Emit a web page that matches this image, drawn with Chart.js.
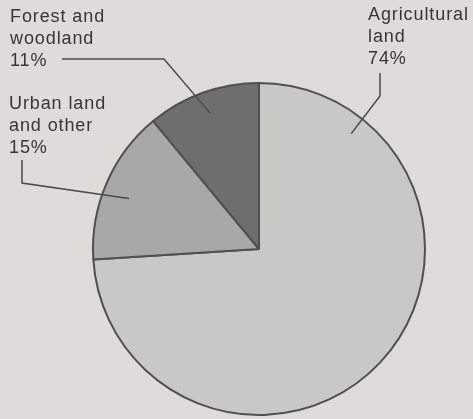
<!DOCTYPE html>
<html>
<head>
<meta charset="utf-8">
<script src="https://cdn.jsdelivr.net/npm/chart.js@4/dist/chart.umd.min.js"></script>
<style>
  html, body { margin: 0; padding: 0; background: #dddcd9; }
  #wrap { width: 473px; height: 419px; position: relative; }
</style>
</head>
<body>
<div id="wrap"><canvas id="pie" width="473" height="419"></canvas></div>
<script>
// Land use shares (percent), clockwise from 12 o'clock
const categories = ['Agricultural land', 'Urban land and other', 'Forest and woodland'];
const shares = [74, 15, 11];
// Text lines shown in each slice's callout (the share is appended as a last line)
const calloutLines = [['Agricultural', 'land'], ['Urban land', 'and other'], ['Forest and', 'woodland']];

const sliceColors = ['#c8c8c5', '#a8a8a6', '#6e6e6d'];

// Callout layout: text anchor, leader path and where the leader ends inside the slice
// (angleFrac = position across the slice's angle, radiusFrac = share of the radius)
const calloutLayout = [
  { x: 368, y: 20, path: [[380, 73], [380, 96]], angleFrac: 0.145, radiusFrac: 0.89 },
  { x: 9,   y: 109, path: [[22, 160], [22, 183]], angleFrac: 0.46, radiusFrac: 0.84 },
  { x: 10,  y: 22, path: [[62, 59], [164, 59]], angleFrac: 0.5, radiusFrac: 0.87 }
];

const callouts = {
  id: 'callouts',
  afterDraw(chart) {
    const ctx = chart.ctx;
    const arcs = chart.getDatasetMeta(0).data;
    ctx.save();
    ctx.fillStyle = '#363636';
    ctx.strokeStyle = '#4a4a4a';
    ctx.lineWidth = 1.5;
    ctx.font = '18px "Liberation Sans", Arial, sans-serif';
    ctx.textBaseline = 'alphabetic';
    ctx.textAlign = 'left';
    if ('letterSpacing' in ctx) ctx.letterSpacing = '0.9px';
    arcs.forEach((arc, i) => {
      const lay = calloutLayout[i];
      const lines = calloutLines[i].concat([shares[i] + '%']);
      lines.forEach((t, k) => ctx.fillText(t, lay.x, lay.y + k * 22));
      const p = arc.getProps(['x', 'y', 'startAngle', 'endAngle', 'outerRadius'], true);
      const a = p.startAngle + (p.endAngle - p.startAngle) * lay.angleFrac;
      const r = p.outerRadius * lay.radiusFrac;
      ctx.beginPath();
      ctx.moveTo(lay.path[0][0], lay.path[0][1]);
      for (let k = 1; k < lay.path.length; k++) ctx.lineTo(lay.path[k][0], lay.path[k][1]);
      ctx.lineTo(p.x + Math.cos(a) * r, p.y + Math.sin(a) * r);
      ctx.stroke();
    });
    ctx.restore();
  }
};

new Chart(document.getElementById('pie'), {
  type: 'pie',
  data: {
    labels: categories,
    datasets: [{
      data: shares,
      backgroundColor: sliceColors,
      borderColor: '#505050',
      borderWidth: 2,
      hoverOffset: 0
    }]
  },
  options: {
    responsive: false,
    animation: false,
    events: [],
    layout: { padding: { left: 92, right: 47, top: 82, bottom: 3 } },
    plugins: { legend: { display: false }, tooltip: { enabled: false } }
  },
  plugins: [callouts]
});
</script>
</body>
</html>
